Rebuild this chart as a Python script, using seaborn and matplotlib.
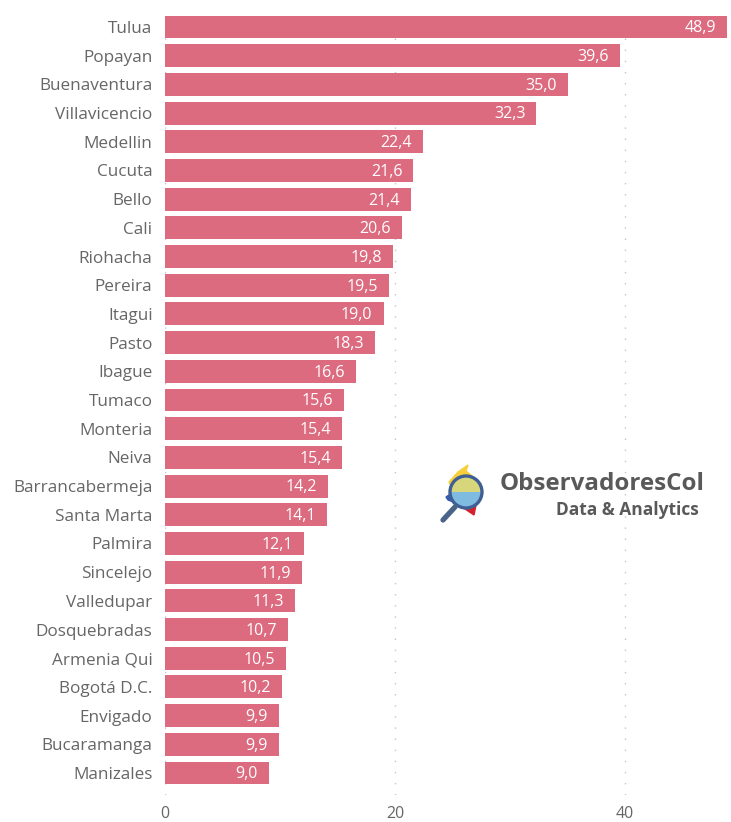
import matplotlib
matplotlib.use("Agg")
import matplotlib.pyplot as plt
import seaborn as sns
import pandas as pd
from matplotlib.patches import Circle, Polygon, Wedge

cities = ["Tulua", "Popayan", "Buenaventura", "Villavicencio", "Medellin", "Cucuta", "Bello", "Cali",
          "Riohacha", "Pereira", "Itagui", "Pasto", "Ibague", "Tumaco", "Monteria", "Neiva",
          "Barrancabermeja", "Santa Marta", "Palmira", "Sincelejo", "Valledupar", "Dosquebradas",
          "Armenia Qui", "Bogotá D.C.", "Envigado", "Bucaramanga", "Manizales"]
values = [48.9, 39.6, 35.0, 32.3, 22.4, 21.6, 21.4, 20.6, 19.8, 19.5, 19.0, 18.3, 16.6, 15.6,
          15.4, 15.4, 14.2, 14.1, 12.1, 11.9, 11.3, 10.7, 10.5, 10.2, 9.9, 9.9, 9.0]
x_ticks = [0, 20, 40]

W, H = 731, 822
BAR = "#DD6B7F"
TXT = "#666666"
plt.rcParams["font.family"] = ["Open Sans", "DejaVu Sans"]

df = pd.DataFrame({"city": cities, "value": values})
fig = plt.figure(figsize=(W / 100, H / 100), dpi=100, facecolor="white")
L, R, T, B = 165, 731, 8, 795
ax = fig.add_axes([L / W, 1 - B / H, (R - L) / W, (B - T) / H])
sns.barplot(data=df, x="value", y="city", color=BAR, saturation=1, width=0.8, ax=ax, zorder=3)
ax.set_xlim(0, (R - L) / 11.5)
pitch = (773 - 27) / 26
ax.set_ylim((B - 27) / pitch, (T - 27) / pitch)
ax.set_xlabel("")
ax.set_ylabel("")
ax.set_xticks(x_ticks)
ax.tick_params(axis="both", length=0)
ax.tick_params(axis="x", labelsize=11.5, labelcolor=TXT, pad=8)
ax.tick_params(axis="y", labelsize=12.3, labelcolor=TXT, pad=9)
ax.xaxis.grid(True, color="#C4C4C4", linestyle=(0, (1, 7)), linewidth=1, zorder=0)
ax.set_axisbelow(True)
sns.despine(ax=ax, left=True, bottom=True)

for i, v in enumerate(values):
    ax.annotate(f"{v:.1f}".replace(".", ","), (v, i), xytext=(-8, -1), textcoords="offset points",
                ha="right", va="center", color="white", fontsize=11.5, zorder=5)

ov = fig.add_axes([0, 0, 1, 1], facecolor="none")
ov.set_xlim(0, W)
ov.set_ylim(H, 0)
ov.axis("off")
ov.text(500, 484, "ObservadoresCol", fontsize=17.4, fontweight="bold", color="#595959", va="center", ha="left")
ov.text(699, 510, "Data & Analytics", fontsize=12.5, fontweight="bold", color="#595959", va="center", ha="right")
ov.add_patch(Polygon([(468, 465), (466, 471), (472, 476), (481, 484), (476, 490), (452, 488), (449, 482), (458, 472)],
                     color="#F7CF3B"))
ov.add_patch(Polygon([(446, 497), (452, 493), (456, 503), (448, 500)], color="#2F5BB0"))
ov.add_patch(Polygon([(461, 506), (476, 505), (474, 515), (468, 511)], color="#D3222E"))
ov.plot([455, 443], [507, 520], color="#4A6487", lw=3.8, solid_capstyle="round")
ov.add_patch(Wedge((466, 492), 16, 0, 180, color="#7FBBE0", ec="none"))
ov.add_patch(Wedge((466, 492), 16, 180, 360, color="#D8D67A", ec="none"))
ov.add_patch(Circle((466, 492), 16, fill=False, ec="#3F5F95", lw=2.4))

fig.savefig("out.png", dpi=100, facecolor="white")
